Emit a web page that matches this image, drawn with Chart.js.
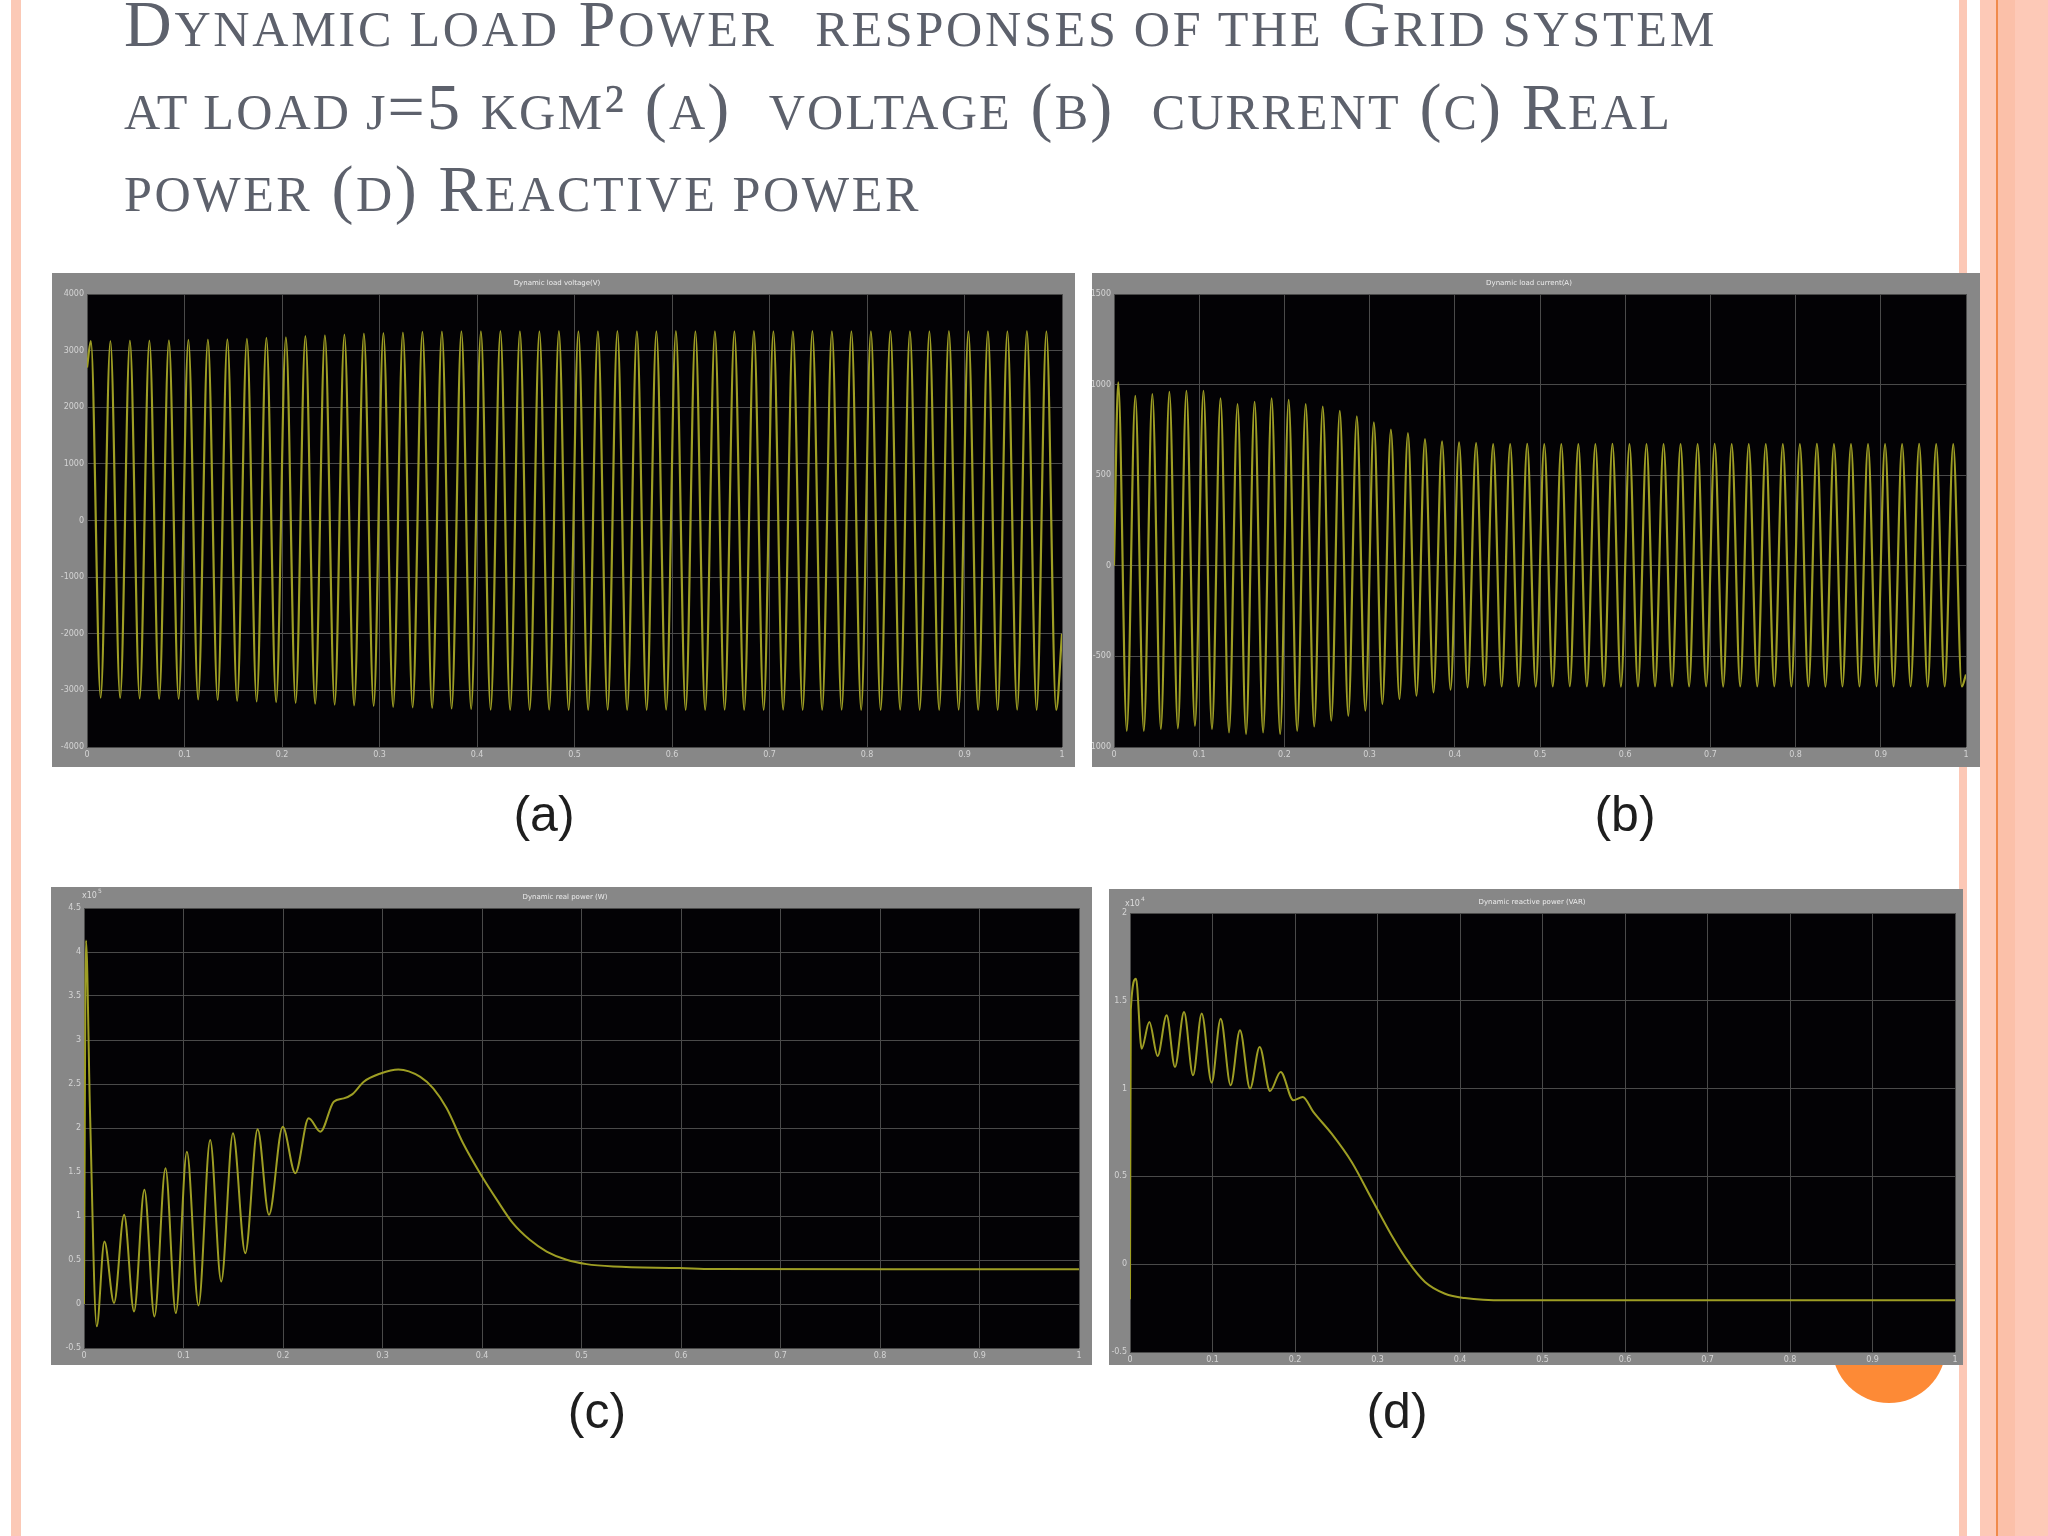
<!DOCTYPE html>
<html>
<head>
<meta charset="utf-8">
<script src="https://cdn.jsdelivr.net/npm/chart.js@4.4.0/dist/chart.umd.min.js"></script>
<style>
  body { margin: 0; width: 2048px; height: 1536px; position: relative; background: #fff; overflow: hidden; }
  .strip { position: absolute; top: 0; height: 1536px; }
  .title-line { position: absolute; left: 124px; font-family: "Liberation Serif", serif;
                font-size: 66px; line-height: 1; color: #5d616c; white-space: pre; display: inline-block; }
  .sc { font-size: 0.76em; text-transform: uppercase; }
  .panel { position: absolute; background: #878787; }
  .panel canvas { display: block; }
  .cap { position: absolute; font-family: "Liberation Sans", Arial, sans-serif; font-size: 50px; color: #1e1e1e;
         transform: translate(-50%, -50%); white-space: pre; }
  .dot { position: absolute; border-radius: 50%; background: #fd8a36; }
</style>
</head>
<body>

<!-- slide decoration -->
<div class="strip" style="left:11px; width:10px; background:#fbc9b6;"></div>
<div class="strip" style="left:1959px; width:8px; background:#fcc8b6;"></div>
<div class="strip" style="left:1980px; width:68px; background:#fdc9b7;"></div>
<div class="strip" style="left:1997px; width:18px; background:#fbc0a9;"></div>
<div class="strip" style="left:1996px; width:2px; background:#f08a4c;"></div>

<div class="title-line" data-w="1593" style="top:-9px;">D<span class="sc">ynamic load</span> P<span class="sc">ower</span>&nbsp; <span class="sc">responses of the</span> G<span class="sc">rid system</span></div>
<div class="title-line" data-w="1548" style="top:74px;"><span class="sc">at load j</span>=5 <span class="sc">kgm</span>² (<span class="sc">a</span>)&nbsp; <span class="sc">voltage</span> (<span class="sc">b</span>)&nbsp; <span class="sc">current</span> (<span class="sc">c</span>) R<span class="sc">eal</span></div>
<div class="title-line" data-w="797" style="top:156px;"><span class="sc">power</span> (<span class="sc">d</span>) R<span class="sc">eactive power</span></div>

<div class="dot" style="left:1832px; top:1289px; width:114px; height:114px;"></div>

<div class="panel" style="left:52px; top:273px; width:1023px; height:494px;"><canvas id="scopeA" width="1023" height="494"></canvas></div>
<div class="panel" style="left:1092px; top:273px; width:888px; height:494px;"><canvas id="scopeB" width="888" height="494"></canvas></div>
<div class="panel" style="left:51px; top:887px; width:1041px; height:478px;"><canvas id="scopeC" width="1041" height="478"></canvas></div>
<div class="panel" style="left:1109px; top:889px; width:854px; height:476px;"><canvas id="scopeD" width="854" height="476"></canvas></div>

<div class="cap" style="left:544px; top:814px;">(a)</div>
<div class="cap" style="left:1625px; top:814px;">(b)</div>
<div class="cap" style="left:597px; top:1411px;">(c)</div>
<div class="cap" style="left:1397px; top:1411px;">(d)</div>

<script>
// ---- data ----
const period = 0.02; // 50 Hz grid

// (a) load voltage: peak / trough of every cycle
const aYTicks = [-4000, -3000, -2000, -1000, 0, 1000, 2000, 3000, 4000];
const aStart = 2700, aEnd = -2000;
const aFirstPeak = 0.004, aFirstTrough = 0.014;
const aPeaks = [3170, 3170, 3175, 3175, 3180, 3190, 3195, 3200, 3210, 3225,
                3235, 3255, 3270, 3285, 3300, 3310, 3320, 3330, 3335, 3340,
                3340, 3345, 3340, 3340, 3345, 3340, 3340, 3345, 3340, 3340,
                3345, 3340, 3340, 3340, 3345, 3340, 3340, 3345, 3340, 3340,
                3340, 3345, 3340, 3340, 3345, 3340, 3340, 3340, 3345, 3340];
const aTroughs = [-3130, -3135, -3140, -3150, -3150, -3160, -3170, -3185, -3195, -3210,
                  -3220, -3235, -3250, -3265, -3275, -3290, -3300, -3310, -3320, -3330,
                  -3340, -3345, -3345, -3340, -3345, -3345, -3340, -3345, -3345, -3340,
                  -3345, -3345, -3340, -3345, -3345, -3340, -3345, -3345, -3340, -3345,
                  -3345, -3340, -3345, -3345, -3340, -3345, -3345, -3340, -3345, -3345];

// (b) load current
const bYTicks = [-1000, -500, 0, 500, 1000, 1500];
const bStart = 0, bEnd = -600;
const bFirstPeak = 0.005, bFirstTrough = 0.015;
const bPeaks = [1012, 938, 948, 960, 966, 966, 924, 892, 905, 924,
                916, 892, 878, 855, 825, 791, 751, 732, 699, 687,
                681, 677, 672, 672, 673, 672, 671, 672, 672, 673,
                672, 672, 671, 672, 672, 673, 672, 672, 671, 672,
                672, 673, 672, 672, 671, 672, 672, 673, 672, 672];
const bTroughs = [-911, -911, -901, -897, -883, -901, -920, -929, -920, -929,
                  -911, -887, -855, -828, -800, -763, -736, -717, -699, -684,
                  -671, -662, -666, -666, -667, -666, -665, -666, -666, -667,
                  -666, -666, -665, -666, -666, -667, -666, -666, -665, -666,
                  -666, -667, -666, -666, -665, -666, -666, -667, -666, -666];

// (c) real power (x10^5)
const cYTicks = [-0.5, 0, 0.5, 1, 1.5, 2, 2.5, 3, 3.5, 4, 4.5];
const cTime = [0, 0.002, 0.006, 0.0128, 0.0205, 0.0302, 0.0403, 0.0503, 0.0607, 0.0708,
               0.0819, 0.0923, 0.1034, 0.1151, 0.1268, 0.1379, 0.1497, 0.1621, 0.1745, 0.1859,
               0.1997, 0.2124, 0.2258, 0.2376, 0.251, 0.2611, 0.2695, 0.2812, 0.298, 0.316,
               0.338, 0.351, 0.3645, 0.381, 0.398, 0.415, 0.431, 0.448, 0.465, 0.485,
               0.505, 0.532, 0.599, 0.632, 1.0];
const cValue = [0, 4.13, 2.2, -0.254, 0.71, 0.011, 1.013, -0.084, 1.297, -0.141,
                1.542, -0.103, 1.731, -0.016, 1.864, 0.256, 1.939, 0.578, 1.985, 1.013,
                2.015, 1.486, 2.11, 1.958, 2.299, 2.337, 2.382, 2.526, 2.62, 2.666,
                2.582, 2.45, 2.224, 1.826, 1.486, 1.183, 0.918, 0.729, 0.596, 0.502,
                0.453, 0.426, 0.408, 0.397, 0.395];

// (d) reactive power (x10^4)
const dYTicks = [-0.5, 0, 0.5, 1, 1.5, 2];
const dTime = [0, 0.001, 0.0073, 0.0141, 0.0234, 0.0335, 0.0444, 0.0545, 0.0655, 0.0764,
               0.0869, 0.099, 0.1099, 0.122, 0.1333, 0.1455, 0.1572, 0.1697, 0.1826, 0.198,
               0.2093, 0.2222, 0.2444, 0.2687, 0.2929, 0.3172, 0.3374, 0.3576, 0.3818, 0.406,
               0.4545, 1.0];
const dValue = [-0.2, 1.45, 1.626, 1.227, 1.379, 1.186, 1.417, 1.123, 1.436, 1.076,
                1.427, 1.034, 1.398, 1.019, 1.332, 1.0, 1.237, 0.986, 1.095, 0.933,
                0.952, 0.867, 0.743, 0.582, 0.373, 0.164, 0.013, -0.101, -0.168, -0.193,
                -0.206, -0.206];

// ---- helpers ----
function wavePoints(start, firstPeak, peaks, firstTrough, troughs, end) {
    const pts = [{ x: 0, y: start }];
    peaks.forEach((v, k) => pts.push({ x: firstPeak + k * period, y: v }));
    troughs.forEach((v, k) => pts.push({ x: firstTrough + k * period, y: v }));
    pts.push({ x: 1, y: end });
    return pts.sort((p, q) => p.x - q.x);
}

function zipPoints(times, values) {
    return times.map((t, i) => ({ x: t, y: values[i] }));
}

// "x10^n" label that matlab puts above the y axis
const exponentLabel = {
    id: 'exponentLabel',
    afterDraw(chart, args, opts) {
        if (!opts || !opts.power) return;
        const ctx = chart.ctx;
        ctx.save();
        ctx.fillStyle = '#dcdcdc';
        ctx.font = '8px "DejaVu Sans"';
        ctx.textBaseline = 'alphabetic';
        ctx.fillText('x10', opts.x, opts.y);
        ctx.font = '6px "DejaVu Sans"';
        ctx.fillText(opts.power, opts.x + 16, opts.y - 5);
        ctx.restore();
    }
};

// black plot area
const scopeBackground = {
    id: 'scopeBackground',
    beforeDraw(chart) {
        const a = chart.chartArea;
        chart.ctx.save();
        chart.ctx.fillStyle = '#030205';
        chart.ctx.fillRect(a.left, a.top, a.right - a.left, a.bottom - a.top);
        chart.ctx.restore();
    }
};

function scope(id, margins, points, yTicks, title, lineWidth, expo) {
    const ctx = document.getElementById(id).getContext('2d');
    return new Chart(ctx, {
        type: 'line',
        data: {
            datasets: [{
                data: points,
                borderColor: '#9e9e24',
                borderWidth: lineWidth,
                pointRadius: 0,
                cubicInterpolationMode: 'monotone',
                fill: false
            }]
        },
        plugins: [scopeBackground, exponentLabel],
        options: {
            responsive: false,
            animation: false,
            events: [],
            layout: { padding: { top: 0, right: margins.r, bottom: 0, left: 0 } },
            plugins: {
                legend: { display: false },
                tooltip: { enabled: false },
                title: {
                    display: true,
                    text: title,
                    color: '#ececec',
                    font: { size: 7, family: 'DejaVu Sans', lineHeight: 1, weight: 'normal' },
                    padding: { top: margins.t - 14, bottom: 7 }
                },
                exponentLabel: expo || {}
            },
            scales: {
                x: {
                    type: 'linear',
                    min: 0,
                    max: 1,
                    afterFit: s => { s.height = margins.b; },
                    grid: { color: '#4a4a4a', lineWidth: 1, drawTicks: false },
                    border: { display: false },
                    ticks: {
                        stepSize: 0.1,
                        autoSkip: false,
                        maxRotation: 0,
                        padding: 3,
                        color: '#d4d4d4',
                        font: { size: 8, family: 'DejaVu Sans' },
                        callback: v => String(Number(v.toFixed(1)))
                    }
                },
                y: {
                    min: yTicks[0],
                    max: yTicks[yTicks.length - 1],
                    afterFit: s => { s.width = margins.l; },
                    grid: { color: '#4a4a4a', lineWidth: 1, drawTicks: false },
                    border: { display: false },
                    ticks: {
                        stepSize: yTicks[1] - yTicks[0],
                        autoSkip: false,
                        padding: 3,
                        color: '#d4d4d4',
                        font: { size: 8, family: 'DejaVu Sans' },
                        callback: v => String(Number(v.toFixed(2)))
                    }
                }
            }
        },
    });
}

function fitTitle() {
    document.querySelectorAll('.title-line').forEach(el => {
        el.style.letterSpacing = '0px';
        const w = el.getBoundingClientRect().width;
        const n = el.textContent.length;
        el.style.letterSpacing = ((Number(el.dataset.w) - w) / n) + 'px';
    });
}

document.addEventListener('DOMContentLoaded', () => {
    fitTitle();

    scope('scopeA', { l: 35, r: 13, t: 21, b: 20 },
          wavePoints(aStart, aFirstPeak, aPeaks, aFirstTrough, aTroughs, aEnd),
          aYTicks, 'Dynamic load voltage(V)', 2.2);
    scope('scopeB', { l: 22, r: 14, t: 21, b: 20 },
          wavePoints(bStart, bFirstPeak, bPeaks, bFirstTrough, bTroughs, bEnd),
          bYTicks, 'Dynamic load current(A)', 2.2);
    scope('scopeC', { l: 33, r: 13, t: 21, b: 17 },
          zipPoints(cTime, cValue),
          cYTicks, 'Dynamic real power (W)', 2, { power: '5', x: 31, y: 11 });
    scope('scopeD', { l: 21, r: 8, t: 24, b: 13 },
          zipPoints(dTime, dValue),
          dYTicks, 'Dynamic reactive power (VAR)', 2, { power: '4', x: 16, y: 17 });
});
</script>
</body>
</html>
